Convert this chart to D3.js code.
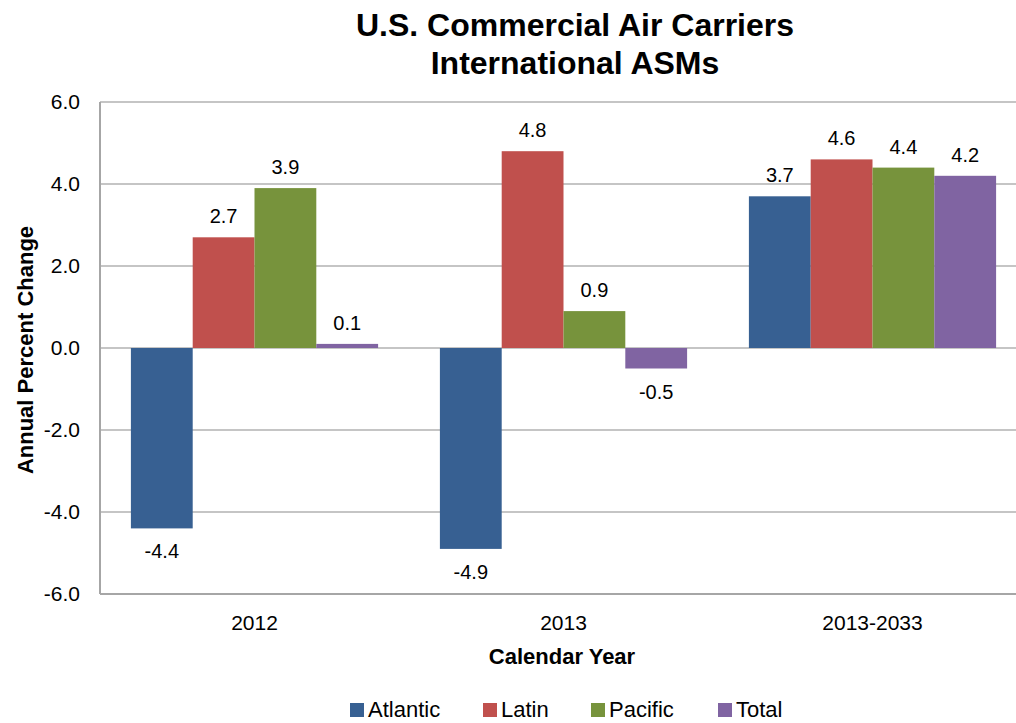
<!DOCTYPE html>
<html><head><meta charset="utf-8">
<script src="https://cdn.jsdelivr.net/npm/d3@7"></script>
<style>body{margin:0;background:#fff}svg{display:block}text{font-family:"Liberation Sans",Arial,sans-serif}</style>
</head><body>
<script>
const categories = ["2012", "2013", "2013-2033"];
const seriesNames = ["Atlantic", "Latin", "Pacific", "Total"];
const atlantic = [-4.4, -4.9, 3.7];
const latin = [2.7, 4.8, 4.6];
const pacific = [3.9, 0.9, 4.4];
const total = [0.1, -0.5, 4.2];
const yTicks = [-6, -4, -2, 0, 2, 4, 6];
const colors = ["#376092", "#C0504D", "#77933C", "#8064A2"];
const seriesValues = [atlantic, latin, pacific, total];

const W = 1016, H = 723;
const m = {left: 100, top: 102, right: 1027, bottom: 594};
const svg = d3.select("body").append("svg").attr("width", W).attr("height", H);

const x = d3.scaleBand().domain(categories).range([m.left, m.right]).paddingInner(0.2).paddingOuter(0.1);
const xi = d3.scaleBand().domain(seriesNames).range([0, x.bandwidth()]);
const y = d3.scaleLinear().domain([-6, 6]).range([m.bottom, m.top]);

// gridlines
svg.append("g").selectAll("line").data(yTicks).join("line")
  .attr("x1", m.left).attr("x2", W).attr("y1", d => y(d)).attr("y2", d => y(d))
  .attr("stroke", d => d === -6 ? "#a6a6a6" : "#8c8c8c").attr("stroke-width", d => d === -6 ? 2 : 1.2);
// left axis line
svg.append("line").attr("x1", m.left).attr("x2", m.left).attr("y1", m.top).attr("y2", m.bottom)
  .attr("stroke", "#a6a6a6").attr("stroke-width", 2);

// y tick labels
svg.append("g").selectAll("text").data(yTicks).join("text")
  .attr("x", 80).attr("y", d => y(d)).attr("dy", "0.35em").attr("text-anchor", "end")
  .attr("font-size", 21).attr("fill", "#000").text(d => d3.format(".1f")(d).replace("−", "-"));

// bars
const groups = svg.append("g").selectAll("g").data(categories).join("g")
  .attr("transform", d => `translate(${x(d)},0)`);
seriesNames.forEach((s, si) => {
  groups.append("rect")
    .attr("x", xi(s)).attr("width", xi.bandwidth())
    .attr("y", (d, i) => y(Math.max(0, seriesValues[si][i])))
    .attr("height", (d, i) => Math.abs(y(seriesValues[si][i]) - y(0)))
    .attr("fill", colors[si]);
  groups.append("text")
    .attr("x", xi(s) + xi.bandwidth() / 2)
    .attr("y", (d, i) => { const v = seriesValues[si][i]; return v >= 0 ? y(v) - 14 : y(v) + 30; })
    .attr("text-anchor", "middle").attr("font-size", 20).attr("fill", "#000")
    .text((d, i) => d3.format(".1f")(seriesValues[si][i]).replace("−", "-"));
});

// x labels
svg.append("g").selectAll("text").data(categories).join("text")
  .attr("x", d => x(d) + x.bandwidth() / 2).attr("y", 630).attr("text-anchor", "middle")
  .attr("font-size", 21).attr("fill", "#000").text(d => d);

svg.append("text").attr("x", 562).attr("y", 664).attr("text-anchor", "middle")
  .attr("font-size", 22).attr("font-weight", "bold").text("Calendar Year");

svg.append("text").attr("transform", "translate(33,350) rotate(-90)").attr("text-anchor", "middle")
  .attr("font-size", 22).attr("font-weight", "bold").text("Annual Percent Change");

// title
svg.append("text").attr("x", 575).attr("y", 36).attr("text-anchor", "middle")
  .attr("font-size", 32).attr("font-weight", "bold").text("U.S. Commercial Air Carriers");
svg.append("text").attr("x", 575).attr("y", 74).attr("text-anchor", "middle")
  .attr("font-size", 32).attr("font-weight", "bold").text("International ASMs");

// legend
const legX = [350, 483, 591, 718];
const leg = svg.append("g").selectAll("g").data(seriesNames).join("g")
  .attr("transform", (d, i) => `translate(${legX[i]},703)`);
leg.append("rect").attr("width", 14).attr("height", 14).attr("fill", (d, i) => colors[i]);
leg.append("text").attr("x", 18).attr("y", 14).attr("font-size", 22).attr("fill", "#000").text(d => d);
</script>
</body></html>
